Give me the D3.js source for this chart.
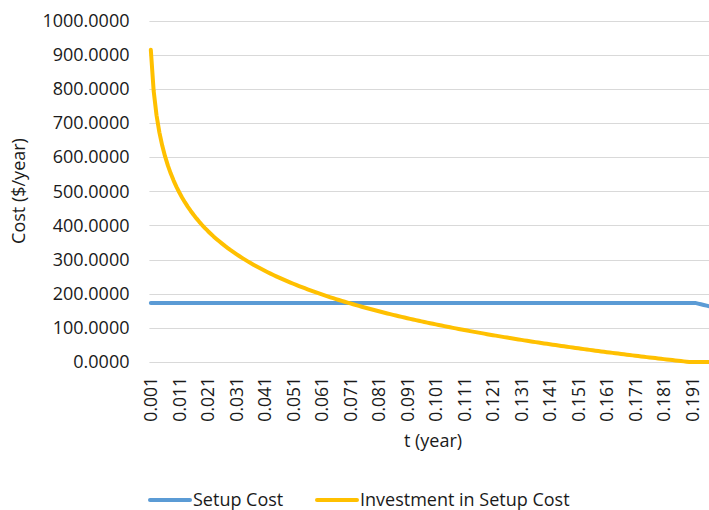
<!DOCTYPE html>
<html>
<head>
<meta charset="utf-8">
<script src="https://cdn.jsdelivr.net/npm/d3@7/dist/d3.min.js"></script>
<style>
  html, body { margin: 0; padding: 0; background: #fff; }
  svg { display: block; overflow: hidden; }
  text { font-family: "Open Sans", "Noto Sans", sans-serif; fill: #1a1a1a; }
</style>
</head>
<body>
<svg id="chart" width="709" height="510"></svg>
<script>
// Cycle length t (year), one category per 0.001
const categories = d3.range(1, 198).map(k => (k / 1000).toFixed(3));

// Category labels shown on the horizontal axis
const tickLabels = ["0.001","0.011","0.021","0.031","0.041","0.051","0.061","0.071","0.081","0.091",
  "0.101","0.111","0.121","0.131","0.141","0.151","0.161","0.171","0.181","0.191"];

// Cost axis ticks ($/year)
const yTicks = [0, 100, 200, 300, 400, 500, 600, 700, 800, 900, 1000];

// Setup Cost ($/year)
const setupCost = [
  173,173,173,173,173,173,173,173,173,173, 173,173,173,173,173,173,173,173,173,173,
  173,173,173,173,173,173,173,173,173,173, 173,173,173,173,173,173,173,173,173,173,
  173,173,173,173,173,173,173,173,173,173, 173,173,173,173,173,173,173,173,173,173,
  173,173,173,173,173,173,173,173,173,173, 173,173,173,173,173,173,173,173,173,173,
  173,173,173,173,173,173,173,173,173,173, 173,173,173,173,173,173,173,173,173,173,
  173,173,173,173,173,173,173,173,173,173, 173,173,173,173,173,173,173,173,173,173,
  173,173,173,173,173,173,173,173,173,173, 173,173,173,173,173,173,173,173,173,173,
  173,173,173,173,173,173,173,173,173,173, 173,173,173,173,173,173,173,173,173,173,
  173,173,173,173,173,173,173,173,173,173, 173,173,173,173,173,173,173,173,173,173,
  173,173,173,173,173,173,173,173,173,173, 173,173,171,169,167,165,163
];

// Investment in Setup Cost ($/year)
const investment = [
  914.0,793.3,722.6,672.5,633.7,601.9,575.0,551.8,531.3,512.9,
  496.3,481.2,467.2,454.3,442.3,431.0,420.5,410.5,401.1,392.2,
  383.7,375.6,367.8,360.4,353.3,346.5,339.9,333.6,327.4,321.5,
  315.8,310.3,304.9,299.7,294.7,289.8,285.0,280.4,275.8,271.4,
  267.1,262.9,258.8,254.8,250.9,247.1,243.3,239.7,236.1,232.6,
  229.1,225.7,222.4,219.1,216.0,212.8,209.7,206.7,203.7,200.8,
  197.9,195.1,192.3,189.5,186.8,184.2,181.6,179.0,176.4,173.9,
  171.5,169.0,166.6,164.3,161.9,159.6,157.3,155.1,152.9,150.7,
  148.5,146.4,144.3,142.2,140.1,138.1,136.1,134.1,132.1,130.2,
  128.2,126.3,124.4,122.6,120.7,118.9,117.1,115.3,113.6,111.8,
  110.1,108.4,106.7,105.0,103.3,101.7,100.0,98.4,96.8,95.2,
  93.6,92.1,90.5,89.0,87.5,86.0,84.5,83.0,81.5,80.0,
  78.6,77.2,75.7,74.3,72.9,71.5,70.2,68.8,67.5,66.1,
  64.8,63.4,62.1,60.8,59.5,58.2,57.0,55.7,54.4,53.2,
  51.9,50.7,49.5,48.3,47.1,45.9,44.7,43.5,42.3,41.2,
  40.0,38.9,37.7,36.6,35.5,34.3,33.2,32.1,31.0,29.9,
  28.8,27.8,26.7,25.6,24.6,23.5,22.5,21.4,20.4,19.4,
  18.3,17.3,16.3,15.3,14.3,13.3,12.4,11.4,10.4,9.4,
  8.4,7.5,6.5,5.6,4.6,3.7,2.8,1.8,0.9,0,
  0,0,0,0,0,0,0
];

const svg = d3.select("#chart");

const plotLeft = 149.4, step = 2.85;
const x = d3.scaleBand()
  .domain(categories)
  .range([plotLeft, plotLeft + step * categories.length])
  .paddingInner(0).paddingOuter(0);
const cx = c => x(c) + x.bandwidth() / 2;

const y = d3.scaleLinear().domain([0, 1000]).range([362, 20.5]);

// Horizontal gridlines
svg.append("g")
  .selectAll("line")
  .data(yTicks)
  .join("line")
  .attr("x1", plotLeft)
  .attr("x2", x.range()[1])
  .attr("y1", d => Math.round(y(d)) + 0.5)
  .attr("y2", d => Math.round(y(d)) + 0.5)
  .attr("stroke", "#d9d9d9")
  .attr("stroke-width", 1);

// Value axis labels
const fmt = d3.format(".4f");
svg.append("g")
  .selectAll("text")
  .data(yTicks)
  .join("text")
  .attr("x", 129.5)
  .attr("y", d => y(d))
  .attr("dy", "0.35em")
  .attr("text-anchor", "end")
  .style("font-size", "18px")
  .text(d => fmt(d));

// Category axis labels, rotated
svg.append("g")
  .selectAll("text")
  .data(tickLabels)
  .join("text")
  .attr("transform", d => `translate(${cx(d)},377) rotate(-90)`)
  .attr("dy", "0.36em")
  .attr("text-anchor", "end")
  .style("font-size", "17.5px")
  .text(d => d);

// Axis titles
svg.append("text")
  .attr("x", 433)
  .attr("y", 447)
  .attr("text-anchor", "middle")
  .style("font-size", "18px")
  .text("t (year)");

svg.append("text")
  .attr("transform", "translate(19,191) rotate(-90)")
  .attr("dy", "0.35em")
  .attr("text-anchor", "middle")
  .style("font-size", "18px")
  .text("Cost ($/year)");

// Series lines
const line = d3.line()
  .x((d, i) => cx(categories[i]))
  .y(d => y(d));

const series = [
  { name: "Setup Cost", values: setupCost, color: "#5b9bd5" },
  { name: "Investment in Setup Cost", values: investment, color: "#ffc000" }
];

svg.append("g")
  .selectAll("path")
  .data(series)
  .join("path")
  .attr("d", d => line(d.values))
  .attr("fill", "none")
  .attr("stroke", d => d.color)
  .attr("stroke-width", 4)
  .attr("stroke-linejoin", "round")
  .attr("stroke-linecap", "round");

// Legend
const legendItems = [
  { s: series[0], x0: 150, x1: 190, tx: 193 },
  { s: series[1], x0: 317, x1: 357, tx: 360 }
];
const lg = svg.append("g").selectAll("g").data(legendItems).join("g");
lg.append("line")
  .attr("x1", d => d.x0).attr("x2", d => d.x1)
  .attr("y1", 500).attr("y2", 500)
  .attr("stroke", d => d.s.color)
  .attr("stroke-width", 4)
  .attr("stroke-linecap", "round");
lg.append("text")
  .attr("x", d => d.tx)
  .attr("y", 500)
  .attr("dy", "0.35em")
  .style("font-size", "18px")
  .text(d => d.s.name);
</script>
</body>
</html>
